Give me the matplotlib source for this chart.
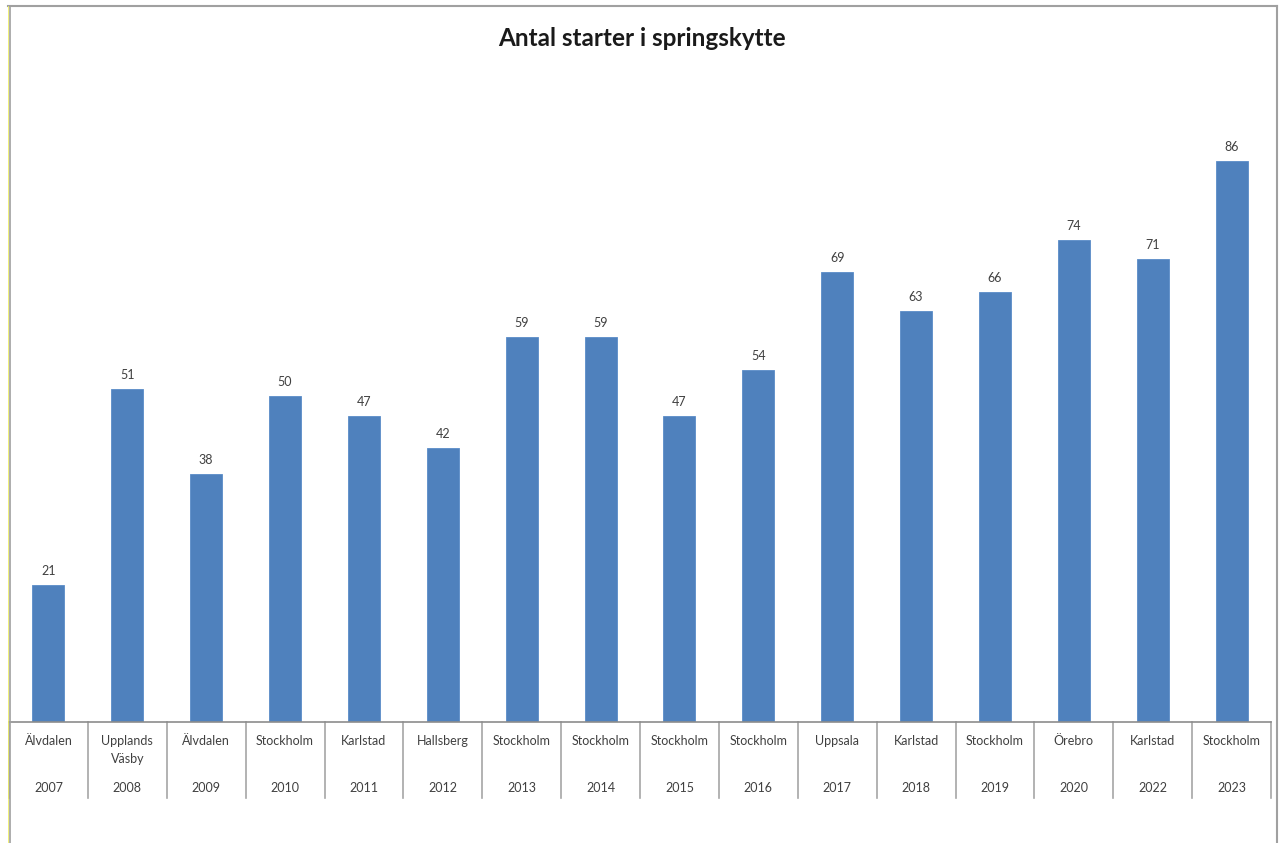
import matplotlib.pyplot as plt
from matplotlib.lines import Line2D

# data
years = ["2007", "2008", "2009", "2010", "2011", "2012", "2013", "2014",
         "2015", "2016", "2017", "2018", "2019", "2020", "2022", "2023"]
places = ["Älvdalen", "Upplands\nVäsby", "Älvdalen", "Stockholm", "Karlstad",
          "Hallsberg", "Stockholm", "Stockholm", "Stockholm", "Stockholm",
          "Uppsala", "Karlstad", "Stockholm", "Örebro", "Karlstad", "Stockholm"]
starts = [21, 51, 38, 50, 47, 42, 59, 59, 47, 54, 69, 63, 66, 74, 71, 86]

plt.rcParams["font.family"] = ["Lato", "DejaVu Sans"]

W, H = 1280, 843
fig = plt.figure(figsize=(W / 100, H / 100), dpi=100)
ax = fig.add_axes([9 / W, (H - 722) / H, (1271 - 9) / W, 652 / H])

n = len(starts)
x = list(range(n))
ax.bar(x, starts, width=0.405, color="#4F81BD", edgecolor="#5A8CC8", linewidth=0.6)

for i, v in enumerate(starts):
    ax.annotate(str(v), xy=(i, v), xytext=(0, 14), textcoords="offset pixels",
                ha="center", va="center", fontsize=9, color="#404040")

ax.set_xlim(-0.5, n - 0.5)
ax.set_ylim(0, 100)
ax.set_xticks([])
ax.set_yticks([])
for s in ["top", "right", "left"]:
    ax.spines[s].set_visible(False)
ax.spines["bottom"].set_color("#8c8c8c")
ax.spines["bottom"].set_linewidth(1.2)

# category table under the axis
tr = ax.get_xaxis_transform()
for i in range(n + 1):
    ln = Line2D([i - 0.5, i - 0.5], [0, -76 / 652], transform=tr,
                color="#a6a6a6", linewidth=1.2, clip_on=False)
    ax.add_line(ln)

for i in range(n):
    ax.annotate(places[i], xy=(i, 0), xycoords=tr, xytext=(0, -13),
                textcoords="offset pixels", ha="center", va="top",
                fontsize=9, color="#404040", linespacing=1.6)
    ax.annotate(years[i], xy=(i, 0), xycoords=tr, xytext=(0, -66),
                textcoords="offset pixels", ha="center", va="center",
                fontsize=9, color="#404040")

fig.text(642 / W, (H - 38) / H, "Antal starter i springskytte", ha="center",
         va="center", fontsize=17.5, fontweight="bold", color="#1a1a1a")

# chart outer frame
fig.add_artist(Line2D([8 / W, 1277 / W], [(H - 6) / H, (H - 6) / H],
                      color="#a0a0a0", linewidth=1.5))
fig.add_artist(Line2D([1277 / W, 1277 / W], [0, (H - 6) / H],
                      color="#a0a0a0", linewidth=1.5))
fig.add_artist(Line2D([9.5 / W, 9.5 / W], [0, (H - 6) / H],
                      color="#a0a0a0", linewidth=1.2))
fig.add_artist(Line2D([8 / W, 8 / W], [0, (H - 6) / H],
                      color="#eeee60", linewidth=0.6))

fig.savefig("out.png", dpi=100)
